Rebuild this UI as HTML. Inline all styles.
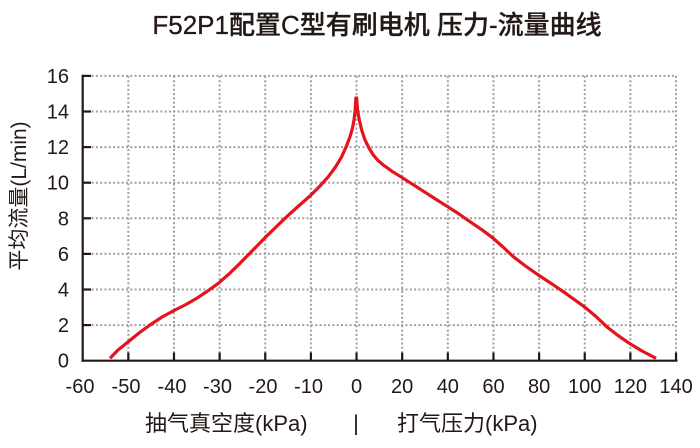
<!DOCTYPE html>
<html>
<head>
<meta charset="utf-8">
<style>
  html, body { margin:0; padding:0; background:#ffffff; }
  body { width:700px; height:448px; overflow:hidden; }
  svg { display:block; }
  text { font-family: "Liberation Sans", "Noto Sans CJK SC", sans-serif; fill:#231815; }
</style>
</head>
<body>
<svg width="700" height="448" viewBox="0 0 700 448" xmlns="http://www.w3.org/2000/svg">
  <!-- Title -->
  <text x="377" y="34" font-size="26" font-weight="500" text-anchor="middle" stroke="#231815" stroke-width="0.3">F52P1配置C型有刷电机 压力-流量曲线</text>

  <!-- Grid -->
  <g stroke="#9f9f9f" stroke-width="2" stroke-dasharray="2 2.3" fill="none">
    <line x1="83" y1="325.1" x2="676" y2="325.1"/>
    <line x1="83" y1="289.5" x2="676" y2="289.5"/>
    <line x1="83" y1="253.9" x2="676" y2="253.9"/>
    <line x1="83" y1="218.3" x2="676" y2="218.3"/>
    <line x1="83" y1="182.7" x2="676" y2="182.7"/>
    <line x1="83" y1="147.1" x2="676" y2="147.1"/>
    <line x1="83" y1="111.5" x2="676" y2="111.5"/>
    <line x1="83" y1="75.9" x2="676" y2="75.9"/>

    <line x1="128.34" y1="75.9" x2="128.34" y2="360"/>
    <line x1="173.98" y1="75.9" x2="173.98" y2="360"/>
    <line x1="219.62" y1="75.9" x2="219.62" y2="360"/>
    <line x1="265.26" y1="75.9" x2="265.26" y2="360"/>
    <line x1="310.9" y1="75.9" x2="310.9" y2="360"/>
    <line x1="356.54" y1="75.9" x2="356.54" y2="360"/>
    <line x1="402.18" y1="75.9" x2="402.18" y2="360"/>
    <line x1="447.82" y1="75.9" x2="447.82" y2="360"/>
    <line x1="493.46" y1="75.9" x2="493.46" y2="360"/>
    <line x1="539.1" y1="75.9" x2="539.1" y2="360"/>
    <line x1="584.74" y1="75.9" x2="584.74" y2="360"/>
    <line x1="630.38" y1="75.9" x2="630.38" y2="360"/>
    <line x1="676.02" y1="75.9" x2="676.02" y2="360"/>
  </g>

  <!-- Axes -->
  <g stroke="#231815" stroke-width="2.2" fill="none">
    <line x1="82.7" y1="74.8" x2="82.7" y2="361.8"/>
    <line x1="81.6" y1="360.7" x2="677.5" y2="360.7"/>
    <line x1="82.7" y1="325.1" x2="91" y2="325.1"/>
    <line x1="82.7" y1="289.5" x2="91" y2="289.5"/>
    <line x1="82.7" y1="253.9" x2="91" y2="253.9"/>
    <line x1="82.7" y1="218.3" x2="91" y2="218.3"/>
    <line x1="82.7" y1="182.7" x2="91" y2="182.7"/>
    <line x1="82.7" y1="147.1" x2="91" y2="147.1"/>
    <line x1="82.7" y1="111.5" x2="91" y2="111.5"/>
    <line x1="82.7" y1="75.9" x2="91" y2="75.9"/>
    <line x1="128.34" y1="360.7" x2="128.34" y2="352.5"/>
    <line x1="173.98" y1="360.7" x2="173.98" y2="352.5"/>
    <line x1="219.62" y1="360.7" x2="219.62" y2="352.5"/>
    <line x1="265.26" y1="360.7" x2="265.26" y2="352.5"/>
    <line x1="310.9" y1="360.7" x2="310.9" y2="352.5"/>
    <line x1="356.54" y1="360.7" x2="356.54" y2="352.5"/>
    <line x1="402.18" y1="360.7" x2="402.18" y2="352.5"/>
    <line x1="447.82" y1="360.7" x2="447.82" y2="352.5"/>
    <line x1="493.46" y1="360.7" x2="493.46" y2="352.5"/>
    <line x1="539.1" y1="360.7" x2="539.1" y2="352.5"/>
    <line x1="584.74" y1="360.7" x2="584.74" y2="352.5"/>
    <line x1="630.38" y1="360.7" x2="630.38" y2="352.5"/>
    <line x1="676.02" y1="360.7" x2="676.02" y2="352.5"/>
  </g>

  <!-- Y tick labels -->
  <g font-size="20" text-anchor="end">
    <text x="69" y="367.7">0</text>
    <text x="69" y="332.1">2</text>
    <text x="69" y="296.5">4</text>
    <text x="69" y="260.9">6</text>
    <text x="69" y="225.3">8</text>
    <text x="69" y="189.7">10</text>
    <text x="69" y="154.1">12</text>
    <text x="69" y="118.5">14</text>
    <text x="69" y="82.9">16</text>
  </g>

  <!-- X tick labels -->
  <g font-size="20" text-anchor="middle">
    <text x="80" y="393">-60</text>
    <text x="126" y="393">-50</text>
    <text x="172" y="393">-40</text>
    <text x="217.5" y="393">-30</text>
    <text x="263" y="393">-20</text>
    <text x="308.5" y="393">-10</text>
    <text x="356.54" y="393">0</text>
    <text x="402.18" y="393">20</text>
    <text x="447.82" y="393">40</text>
    <text x="493.46" y="393">60</text>
    <text x="539.1" y="393">80</text>
    <text x="584.74" y="393">100</text>
    <text x="630.38" y="393">120</text>
    <text x="676.02" y="393">140</text>
  </g>

  <!-- Axis titles -->
  <text transform="translate(26,196) rotate(-90)" font-size="21" text-anchor="middle">平均流量(L/min)</text>
  <text x="145" y="431" font-size="22">抽气真空度(kPa)</text>
  <text x="356" y="430.5" font-size="22" text-anchor="middle">|</text>
  <text x="397" y="431" font-size="22">打气压力(kPa)</text>

  <!-- Curve -->
  <polyline fill="none" stroke="#e5131d" stroke-width="3.2" stroke-linejoin="round" stroke-linecap="butt"
    points="110,358.3 118,350 128.3,341.7 139,333 150,325 162,317 175,310 186,304.5 196.7,298.3 207,291.5 218.3,283.3 229,274 240,263.3 253,250 266,236.7 276,227 286.7,216.7 298,206.5 310,196 320,186 328.3,176.7 335.5,167 341.7,156.7 346.5,146 350,136.7 352.5,128 354,120 355.2,110 355.6,103 355.9,98 356.7,98 357,103 357.5,110 359.3,120 361.8,130.5 365,140 369,148 373.3,155 378,160.5 383.3,165 392,171.3 401.7,177.3 414,185.2 426.7,193.3 437,200 447.7,206.7 459,214 470,221.7 482,229.8 493.3,238.3 503,247 513.3,256.7 525.5,266 538.3,275 551,283.3 563.3,291.7 574,299.3 585,307.3 596,316.5 606.7,326.7 618,335.5 629.3,343.3 642,351 656,358.3"/>
</svg>
</body>
</html>
